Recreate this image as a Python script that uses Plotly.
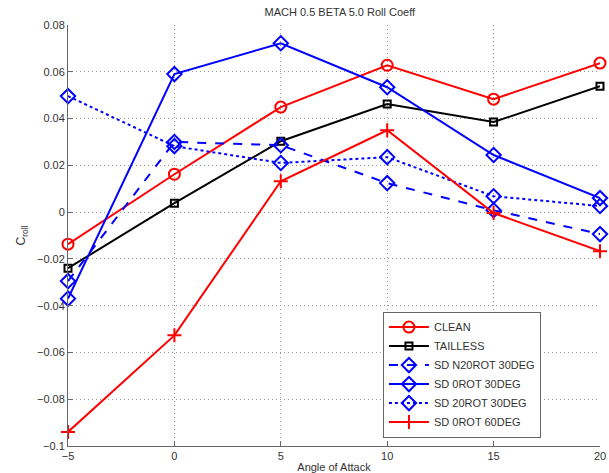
import plotly.graph_objects as go

alpha = [-5, 0, 5, 10, 15, 20]
clean = [-0.0137, 0.0162, 0.0449, 0.0628, 0.0483, 0.0637]
tailless = [-0.0240, 0.0038, 0.0303, 0.0462, 0.0385, 0.0538]
sd_n20rot_30 = [-0.0295, 0.0300, 0.0286, 0.0124, 0.0008, -0.0094]
sd_0rot_30 = [-0.0370, 0.0590, 0.0722, 0.0534, 0.0244, 0.0060]
sd_20rot_30 = [0.0496, 0.0282, 0.0210, 0.0235, 0.0068, 0.0026]
sd_0rot_60 = [-0.0940, -0.0527, 0.0132, 0.0350, -0.0004, -0.0167]

series = [
    ("CLEAN", clean, "red", "solid", "circle-open", 11),
    ("TAILLESS", tailless, "black", "solid", "square-open", 7),
    ("SD N20ROT 30DEG", sd_n20rot_30, "blue", "dash", "diamond-open", 11),
    ("SD 0ROT 30DEG", sd_0rot_30, "blue", "solid", "diamond-open", 11),
    ("SD 20ROT 30DEG", sd_20rot_30, "blue", "dot", "diamond-open", 11),
    ("SD 0ROT 60DEG", sd_0rot_60, "red", "solid", "cross-thin-open", 10),
]

fig = go.Figure()
for name, ys, color, dash, sym, size in series:
    fig.add_trace(go.Scatter(
        x=alpha, y=ys, name=name, mode="lines+markers",
        line=dict(color=color, width=2, dash=dash),
        marker=dict(symbol=sym, size=size, color=color,
                    line=dict(color=color, width=2)),
        cliponaxis=False,
    ))

font = dict(family="Liberation Sans, Arial, sans-serif", size=11, color="#333333")
fig.update_layout(
    width=609, height=473,
    margin=dict(l=68, r=9, t=25, b=27, autoexpand=False),
    paper_bgcolor="white", plot_bgcolor="white",
    font=font,
    title=dict(text="MACH 0.5 BETA 5.0 Roll Coeff", x=0.558, xanchor="center",
               y=0.975, yanchor="middle", font=dict(size=11, color="#333333")),
    showlegend=True,
    legend=dict(x=0.592, y=0.02, xanchor="left", yanchor="bottom",
                bordercolor="#666666", borderwidth=1, bgcolor="white",
                font=dict(size=11, color="#333333"), tracegroupgap=0,
                itemwidth=40),
)
fig.update_xaxes(
    range=[-5, 20], tickmode="linear", tick0=-5, dtick=5,
    showgrid=True, gridcolor="#999999", griddash="1px,3px", gridwidth=1,
    showline=True, linecolor="#666666", linewidth=1, mirror=False,
    ticks="inside", ticklen=5, tickcolor="#666666",
    zeroline=False, automargin=False,
    title=dict(text="Angle of Attack", standoff=2, font=dict(size=11)),
)
fig.update_yaxes(
    range=[-0.1, 0.08], tickmode="linear", tick0=-0.1, dtick=0.02,
    showgrid=True, gridcolor="#999999", griddash="1px,3px", gridwidth=1,
    showline=True, linecolor="#666666", linewidth=1, mirror=False,
    ticks="inside", ticklen=5, tickcolor="#666666",
    zeroline=False, automargin=False,
    title=dict(text="C<sub>roll</sub>", standoff=8, font=dict(size=12)),
)
fig.write_html("out.html")
